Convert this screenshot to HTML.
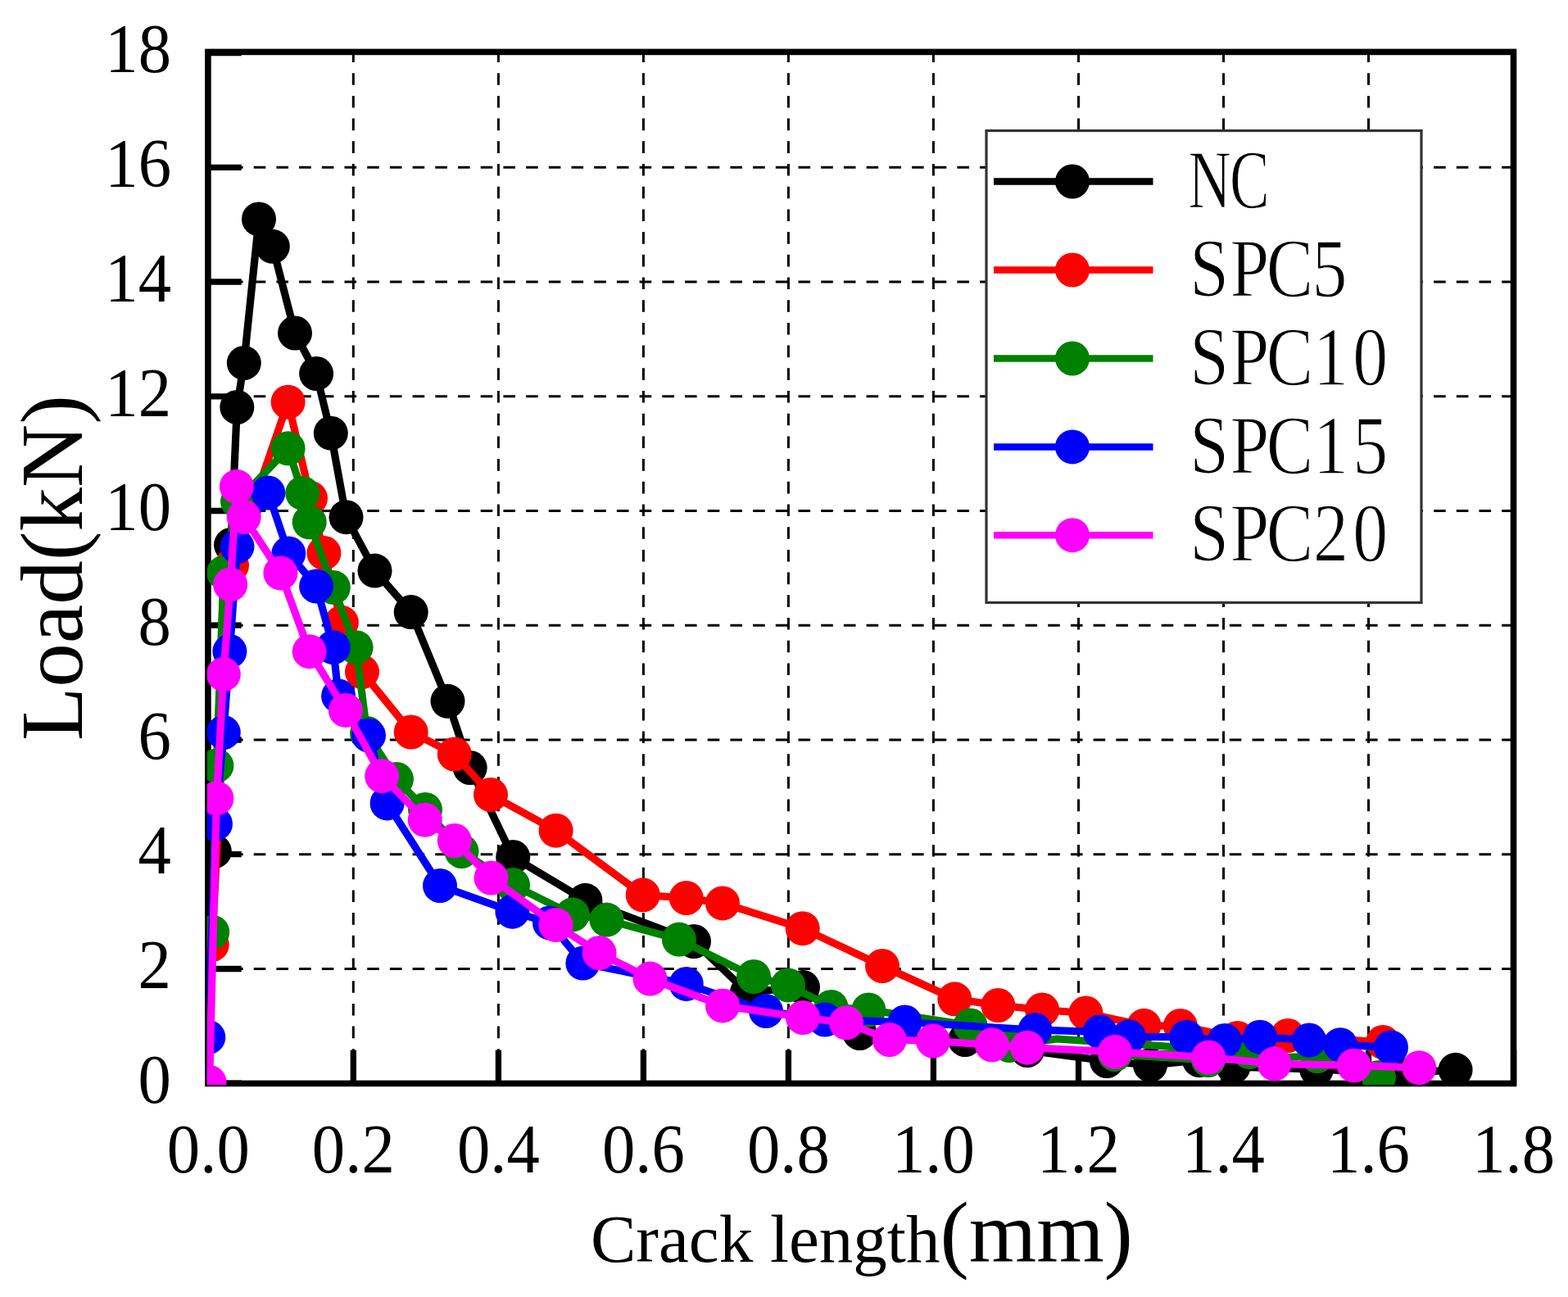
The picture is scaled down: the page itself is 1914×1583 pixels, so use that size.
<!DOCTYPE html>
<html><head><meta charset="utf-8"><title>Load vs Crack length</title>
<style>html,body{margin:0;padding:0;background:#fff;}svg{display:block;}text{font-family:"Liberation Serif","Times New Roman",serif;fill:#000;}</style></head><body>
<svg width="1914" height="1583" viewBox="0 0 1914 1583">
<rect x="0" y="0" width="1914" height="1583" fill="#fff"/>
<g stroke="#000" stroke-width="3.0" stroke-dasharray="14.6 13.1" fill="none"><line x1="431.3" y1="61.5" x2="431.3" y2="1322" /><line x1="608.4" y1="61.5" x2="608.4" y2="1322" /><line x1="785.4" y1="61.5" x2="785.4" y2="1322" /><line x1="962.4" y1="61.5" x2="962.4" y2="1322" /><line x1="1139.4" y1="61.5" x2="1139.4" y2="1322" /><line x1="1316.5" y1="61.5" x2="1316.5" y2="1322" /><line x1="1493.5" y1="61.5" x2="1493.5" y2="1322" /><line x1="1670.5" y1="61.5" x2="1670.5" y2="1322" /><line x1="254.3" y1="1182.5" x2="1848" y2="1182.5" /><line x1="254.3" y1="1042.7" x2="1848" y2="1042.7" /><line x1="254.3" y1="903" x2="1848" y2="903" /><line x1="254.3" y1="763.2" x2="1848" y2="763.2" /><line x1="254.3" y1="623.5" x2="1848" y2="623.5" /><line x1="254.3" y1="483.8" x2="1848" y2="483.8" /><line x1="254.3" y1="344" x2="1848" y2="344" /><line x1="254.3" y1="204.3" x2="1848" y2="204.3" /></g>
<g stroke="#000" stroke-width="7.3" fill="none"><line x1="252" y1="1322.2" x2="294.7" y2="1322.2" /><line x1="252" y1="1182.5" x2="294.7" y2="1182.5" /><line x1="252" y1="1042.7" x2="294.7" y2="1042.7" /><line x1="252" y1="903" x2="294.7" y2="903" /><line x1="252" y1="763.2" x2="294.7" y2="763.2" /><line x1="252" y1="623.5" x2="294.7" y2="623.5" /><line x1="252" y1="483.8" x2="294.7" y2="483.8" /><line x1="252" y1="344" x2="294.7" y2="344" /><line x1="252" y1="204.3" x2="294.7" y2="204.3" /><line x1="252" y1="64.5" x2="294.7" y2="64.5" /><line x1="254.3" y1="1324" x2="254.3" y2="1281.6" /><line x1="431.3" y1="1324" x2="431.3" y2="1281.6" /><line x1="608.4" y1="1324" x2="608.4" y2="1281.6" /><line x1="785.4" y1="1324" x2="785.4" y2="1281.6" /><line x1="962.4" y1="1324" x2="962.4" y2="1281.6" /><line x1="1139.4" y1="1324" x2="1139.4" y2="1281.6" /><line x1="1316.5" y1="1324" x2="1316.5" y2="1281.6" /><line x1="1493.5" y1="1324" x2="1493.5" y2="1281.6" /><line x1="1670.5" y1="1324" x2="1670.5" y2="1281.6" /><line x1="1847.6" y1="1324" x2="1847.6" y2="1281.6" /></g>
<rect x="253.9" y="63.4" width="1593.6" height="1259" fill="none" stroke="#000" stroke-width="7.6"/>
<defs><clipPath id="pc"><rect x="252.8" y="60" width="1597" height="1264"/></clipPath></defs>
<g clip-path="url(#pc)">
<polyline points="255,1321.5 261.8,1039 282,665 289.3,497 297.8,443 316,267.4 332.8,300.8 360,406.5 386.1,456 403.8,528.7 422.5,631.2 457.5,696.6 501.7,747.1 546.5,855.8 573.7,937 626.2,1046 714.4,1098.8 847,1149 912,1211 980,1205 1049.4,1261 1178,1269 1254,1282 1351,1295 1404,1300 1464,1294 1505.5,1302 1607,1305 1705,1310 1776.6,1305.8" fill="none" stroke="#000000" stroke-width="9.2" stroke-linejoin="round"/>
<g fill="#000000"><circle cx="255" cy="1321.5" r="21.0"/><circle cx="261.8" cy="1039" r="21.0"/><circle cx="282" cy="665" r="21.0"/><circle cx="289.3" cy="497" r="21.0"/><circle cx="297.8" cy="443" r="21.0"/><circle cx="316" cy="267.4" r="21.0"/><circle cx="332.8" cy="300.8" r="21.0"/><circle cx="360" cy="406.5" r="21.0"/><circle cx="386.1" cy="456" r="21.0"/><circle cx="403.8" cy="528.7" r="21.0"/><circle cx="422.5" cy="631.2" r="21.0"/><circle cx="457.5" cy="696.6" r="21.0"/><circle cx="501.7" cy="747.1" r="21.0"/><circle cx="546.5" cy="855.8" r="21.0"/><circle cx="573.7" cy="937" r="21.0"/><circle cx="626.2" cy="1046" r="21.0"/><circle cx="714.4" cy="1098.8" r="21.0"/><circle cx="847" cy="1149" r="21.0"/><circle cx="912" cy="1211" r="21.0"/><circle cx="980" cy="1205" r="21.0"/><circle cx="1049.4" cy="1261" r="21.0"/><circle cx="1178" cy="1269" r="21.0"/><circle cx="1254" cy="1282" r="21.0"/><circle cx="1351" cy="1295" r="21.0"/><circle cx="1404" cy="1300" r="21.0"/><circle cx="1464" cy="1294" r="21.0"/><circle cx="1505.5" cy="1302" r="21.0"/><circle cx="1607" cy="1305" r="21.0"/><circle cx="1705" cy="1310" r="21.0"/><circle cx="1776.6" cy="1305.8" r="21.0"/></g>
<polyline points="255,1321.5 258.7,1153 283,690 351.6,490.7 379,608 395.4,675 416.9,759.8 442,820 501.7,893.5 554.8,920.5 599,970 678.6,1013.7 784.7,1092.3 837.7,1096 882,1102.4 979.7,1133.2 1077,1179 1165.3,1219.3 1218.3,1227 1272.1,1232.5 1325.4,1236.5 1396.4,1251.8 1440.9,1252 1510.5,1267 1572,1264 1688,1272" fill="none" stroke="#ff0000" stroke-width="9.2" stroke-linejoin="round"/>
<g fill="#ff0000"><circle cx="255" cy="1321.5" r="21.0"/><circle cx="258.7" cy="1153" r="21.0"/><circle cx="283" cy="690" r="21.0"/><circle cx="351.6" cy="490.7" r="21.0"/><circle cx="379" cy="608" r="21.0"/><circle cx="395.4" cy="675" r="21.0"/><circle cx="416.9" cy="759.8" r="21.0"/><circle cx="442" cy="820" r="21.0"/><circle cx="501.7" cy="893.5" r="21.0"/><circle cx="554.8" cy="920.5" r="21.0"/><circle cx="599" cy="970" r="21.0"/><circle cx="678.6" cy="1013.7" r="21.0"/><circle cx="784.7" cy="1092.3" r="21.0"/><circle cx="837.7" cy="1096" r="21.0"/><circle cx="882" cy="1102.4" r="21.0"/><circle cx="979.7" cy="1133.2" r="21.0"/><circle cx="1077" cy="1179" r="21.0"/><circle cx="1165.3" cy="1219.3" r="21.0"/><circle cx="1218.3" cy="1227" r="21.0"/><circle cx="1272.1" cy="1232.5" r="21.0"/><circle cx="1325.4" cy="1236.5" r="21.0"/><circle cx="1396.4" cy="1251.8" r="21.0"/><circle cx="1440.9" cy="1252" r="21.0"/><circle cx="1510.5" cy="1267" r="21.0"/><circle cx="1572" cy="1264" r="21.0"/><circle cx="1688" cy="1272" r="21.0"/></g>
<polyline points="255,1321.5 259.2,1137.7 264.4,934.5 273,699 290,612 351.6,547.3 369.3,601.9 377.7,637.3 406.8,716.9 434.6,790.2 448,895 484,951 519,988 563.5,1039 626,1080 698.8,1116.3 740.5,1122.6 828.9,1146.6 920,1192 962,1202.4 1014.5,1229 1060.3,1232.5 1184.5,1251.5 1232,1276 1290,1268 1525,1284 1361,1287 1475,1294 1608,1289 1683,1315" fill="none" stroke="#008000" stroke-width="9.2" stroke-linejoin="round"/>
<g fill="#008000"><circle cx="255" cy="1321.5" r="21.0"/><circle cx="259.2" cy="1137.7" r="21.0"/><circle cx="264.4" cy="934.5" r="21.0"/><circle cx="273" cy="699" r="21.0"/><circle cx="290" cy="612" r="21.0"/><circle cx="351.6" cy="547.3" r="21.0"/><circle cx="369.3" cy="601.9" r="21.0"/><circle cx="377.7" cy="637.3" r="21.0"/><circle cx="406.8" cy="716.9" r="21.0"/><circle cx="434.6" cy="790.2" r="21.0"/><circle cx="448" cy="895" r="21.0"/><circle cx="484" cy="951" r="21.0"/><circle cx="519" cy="988" r="21.0"/><circle cx="563.5" cy="1039" r="21.0"/><circle cx="626" cy="1080" r="21.0"/><circle cx="698.8" cy="1116.3" r="21.0"/><circle cx="740.5" cy="1122.6" r="21.0"/><circle cx="828.9" cy="1146.6" r="21.0"/><circle cx="920" cy="1192" r="21.0"/><circle cx="962" cy="1202.4" r="21.0"/><circle cx="1014.5" cy="1229" r="21.0"/><circle cx="1060.3" cy="1232.5" r="21.0"/><circle cx="1184.5" cy="1251.5" r="21.0"/><circle cx="1232" cy="1276" r="21.0"/><circle cx="1525" cy="1284" r="21.0"/><circle cx="1361" cy="1287" r="21.0"/><circle cx="1475" cy="1294" r="21.0"/><circle cx="1608" cy="1289" r="21.0"/><circle cx="1683" cy="1315" r="21.0"/></g>
<polyline points="255,1321.5 254.3,1266 263,1005.5 272.8,894 280.4,795 289.5,667 327.3,601.5 352.3,675.5 386.1,715.5 406.8,790.2 413.1,849.5 450,897.5 472.6,980.4 537,1081 625.4,1112.7 671,1126.4 711.4,1175.6 837.7,1200.9 935,1234 1007,1244.5 1104.5,1247.5 1263.5,1257 1342.8,1259.5 1378,1265.3 1448.2,1265.7 1495,1270 1538,1265.7 1598,1269.5 1636,1275.2 1698,1278.4" fill="none" stroke="#0000ff" stroke-width="9.2" stroke-linejoin="round"/>
<g fill="#0000ff"><circle cx="255" cy="1321.5" r="21.0"/><circle cx="254.3" cy="1266" r="21.0"/><circle cx="263" cy="1005.5" r="21.0"/><circle cx="272.8" cy="894" r="21.0"/><circle cx="280.4" cy="795" r="21.0"/><circle cx="289.5" cy="667" r="21.0"/><circle cx="327.3" cy="601.5" r="21.0"/><circle cx="352.3" cy="675.5" r="21.0"/><circle cx="386.1" cy="715.5" r="21.0"/><circle cx="406.8" cy="790.2" r="21.0"/><circle cx="413.1" cy="849.5" r="21.0"/><circle cx="450" cy="897.5" r="21.0"/><circle cx="472.6" cy="980.4" r="21.0"/><circle cx="537" cy="1081" r="21.0"/><circle cx="625.4" cy="1112.7" r="21.0"/><circle cx="671" cy="1126.4" r="21.0"/><circle cx="711.4" cy="1175.6" r="21.0"/><circle cx="837.7" cy="1200.9" r="21.0"/><circle cx="935" cy="1234" r="21.0"/><circle cx="1007" cy="1244.5" r="21.0"/><circle cx="1104.5" cy="1247.5" r="21.0"/><circle cx="1263.5" cy="1257" r="21.0"/><circle cx="1342.8" cy="1259.5" r="21.0"/><circle cx="1378" cy="1265.3" r="21.0"/><circle cx="1448.2" cy="1265.7" r="21.0"/><circle cx="1495" cy="1270" r="21.0"/><circle cx="1538" cy="1265.7" r="21.0"/><circle cx="1598" cy="1269.5" r="21.0"/><circle cx="1636" cy="1275.2" r="21.0"/><circle cx="1698" cy="1278.4" r="21.0"/></g>
<polyline points="255.6,1321 264.4,974.4 272.8,823 281.2,713.4 288.9,593.8 297.7,631 342.4,699.4 377.7,795.2 421.9,866.9 466.2,947.2 518.8,1000.7 554.8,1026 599.5,1071.5 678.5,1128.9 731.6,1163 793.5,1194.6 882,1227.4 980,1242 1033,1248.3 1085.8,1269 1139,1270.5 1210.8,1275.3 1254,1278.7 1361,1283.8 1475.3,1290.5 1555.6,1298.3 1652.8,1300.4 1732.3,1303.2" fill="none" stroke="#ff00ff" stroke-width="9.2" stroke-linejoin="round"/>
<g fill="#ff00ff"><circle cx="255.6" cy="1321" r="21.0"/><circle cx="264.4" cy="974.4" r="21.0"/><circle cx="272.8" cy="823" r="21.0"/><circle cx="281.2" cy="713.4" r="21.0"/><circle cx="288.9" cy="593.8" r="21.0"/><circle cx="297.7" cy="631" r="21.0"/><circle cx="342.4" cy="699.4" r="21.0"/><circle cx="377.7" cy="795.2" r="21.0"/><circle cx="421.9" cy="866.9" r="21.0"/><circle cx="466.2" cy="947.2" r="21.0"/><circle cx="518.8" cy="1000.7" r="21.0"/><circle cx="554.8" cy="1026" r="21.0"/><circle cx="599.5" cy="1071.5" r="21.0"/><circle cx="678.5" cy="1128.9" r="21.0"/><circle cx="731.6" cy="1163" r="21.0"/><circle cx="793.5" cy="1194.6" r="21.0"/><circle cx="882" cy="1227.4" r="21.0"/><circle cx="980" cy="1242" r="21.0"/><circle cx="1033" cy="1248.3" r="21.0"/><circle cx="1085.8" cy="1269" r="21.0"/><circle cx="1139" cy="1270.5" r="21.0"/><circle cx="1210.8" cy="1275.3" r="21.0"/><circle cx="1254" cy="1278.7" r="21.0"/><circle cx="1361" cy="1283.8" r="21.0"/><circle cx="1475.3" cy="1290.5" r="21.0"/><circle cx="1555.6" cy="1298.3" r="21.0"/><circle cx="1652.8" cy="1300.4" r="21.0"/><circle cx="1732.3" cy="1303.2" r="21.0"/></g>
</g>
<rect x="1204" y="159.5" width="531" height="576" fill="#fff" stroke="#333" stroke-width="3.2"/>
<line x1="1213" y1="221.5" x2="1407.5" y2="221.5" stroke="#000000" stroke-width="8.5"/>
<circle cx="1309" cy="221.5" r="21.0" fill="#000000"/>
<line x1="1213" y1="329.5" x2="1407.5" y2="329.5" stroke="#ff0000" stroke-width="8.5"/>
<circle cx="1309" cy="329.5" r="21.0" fill="#ff0000"/>
<line x1="1213" y1="437.5" x2="1407.5" y2="437.5" stroke="#008000" stroke-width="8.5"/>
<circle cx="1309" cy="437.5" r="21.0" fill="#008000"/>
<line x1="1213" y1="545.4" x2="1407.5" y2="545.4" stroke="#0000ff" stroke-width="8.5"/>
<circle cx="1309" cy="545.4" r="21.0" fill="#0000ff"/>
<line x1="1213" y1="653.2" x2="1407.5" y2="653.2" stroke="#ff00ff" stroke-width="8.5"/>
<circle cx="1309" cy="653.2" r="21.0" fill="#ff00ff"/>
<text transform="scale(0.72,1)" x="2050.7 2118.5" y="253.8" font-size="101" text-anchor="middle" stroke="#fff" stroke-width="1.3">NC</text>
<text transform="scale(0.85,1)" x="1736.5 1794.7 1852.2 1909.4" y="361.8" font-size="101" text-anchor="middle" stroke="#fff" stroke-width="1.3">SPC5</text>
<text transform="scale(0.85,1)" x="1736.5 1794.7 1852.2 1911.1 1968" y="469.8" font-size="101" text-anchor="middle" stroke="#fff" stroke-width="1.3">SPC10</text>
<text transform="scale(0.85,1)" x="1736.5 1794.7 1852.2 1911.1 1968" y="577.7" font-size="101" text-anchor="middle" stroke="#fff" stroke-width="1.3">SPC15</text>
<text transform="scale(0.85,1)" x="1736.5 1794.7 1852.2 1911.1 1968" y="685.5" font-size="101" text-anchor="middle" stroke="#fff" stroke-width="1.3">SPC20</text>
<text transform="translate(209,0) scale(0.95,1)" x="0" y="1346" font-size="85" text-anchor="end">0</text>
<text transform="translate(209,0) scale(0.95,1)" x="0" y="1206.3" font-size="85" text-anchor="end">2</text>
<text transform="translate(209,0) scale(0.95,1)" x="0" y="1066.5" font-size="85" text-anchor="end">4</text>
<text transform="translate(209,0) scale(0.95,1)" x="0" y="926.8" font-size="85" text-anchor="end">6</text>
<text transform="translate(209,0) scale(0.95,1)" x="0" y="787" font-size="85" text-anchor="end">8</text>
<text transform="translate(209,0) scale(0.95,1)" x="0" y="647.3" font-size="85" text-anchor="end">10</text>
<text transform="translate(209,0) scale(0.95,1)" x="0" y="507.6" font-size="85" text-anchor="end">12</text>
<text transform="translate(209,0) scale(0.95,1)" x="0" y="367.8" font-size="85" text-anchor="end">14</text>
<text transform="translate(209,0) scale(0.95,1)" x="0" y="228.1" font-size="85" text-anchor="end">16</text>
<text transform="translate(209,0) scale(0.95,1)" x="0" y="88.3" font-size="85" text-anchor="end">18</text>
<text transform="translate(254.3,0) scale(0.95,1)" x="0" y="1431" font-size="85" text-anchor="middle">0.0</text>
<text transform="translate(431.3,0) scale(0.95,1)" x="0" y="1431" font-size="85" text-anchor="middle">0.2</text>
<text transform="translate(608.4,0) scale(0.95,1)" x="0" y="1431" font-size="85" text-anchor="middle">0.4</text>
<text transform="translate(785.4,0) scale(0.95,1)" x="0" y="1431" font-size="85" text-anchor="middle">0.6</text>
<text transform="translate(962.4,0) scale(0.95,1)" x="0" y="1431" font-size="85" text-anchor="middle">0.8</text>
<text transform="translate(1139.4,0) scale(0.95,1)" x="0" y="1431" font-size="85" text-anchor="middle">1.0</text>
<text transform="translate(1316.5,0) scale(0.95,1)" x="0" y="1431" font-size="85" text-anchor="middle">1.2</text>
<text transform="translate(1493.5,0) scale(0.95,1)" x="0" y="1431" font-size="85" text-anchor="middle">1.4</text>
<text transform="translate(1670.5,0) scale(0.95,1)" x="0" y="1431" font-size="85" text-anchor="middle">1.6</text>
<text transform="translate(1847.6,0) scale(0.95,1)" x="0" y="1431" font-size="85" text-anchor="middle">1.8</text>
<text x="721" y="1539.6" font-size="83">Crack length<tspan font-size="106">(mm)</tspan></text>
<text transform="translate(100,904) rotate(-90)" x="0" y="0" font-size="107">Load(kN)</text>
</svg></body></html>
